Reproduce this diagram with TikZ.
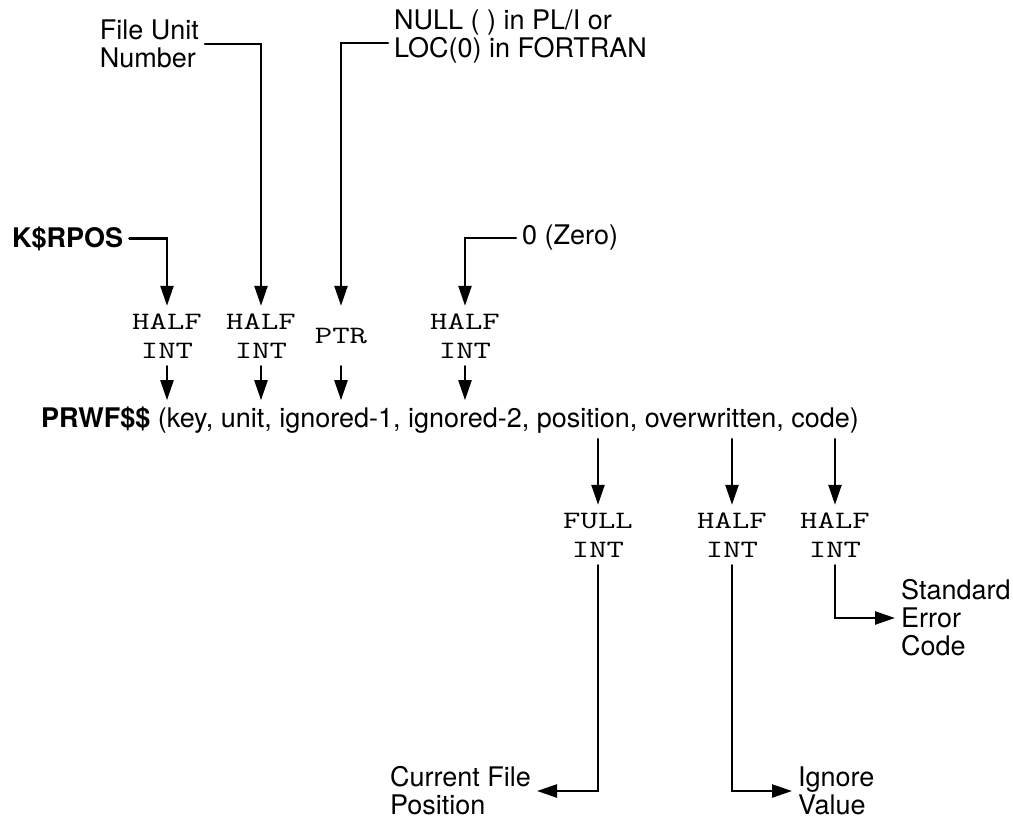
\documentclass[tikz,border=0pt]{standalone}
\usepackage{fontspec}
\setmainfont{TeX Gyre Heros}
\usetikzlibrary{arrows.meta}
\newcommand\wtt[1]{\scalebox{1.35}[1]{#1}}

\begin{document}
\begin{tikzpicture}[x=.5pt, y=-.5pt, line cap=round, line width=1.2pt,
  >={Triangle[length=10pt,width=6.5pt]},
  txt/.style={font=\fontsize{13.5}{14}\selectfont, inner sep=2.5pt, align=left},
  ttl/.style={font=\ttfamily\fontsize{12.5}{14.5}\selectfont, inner sep=2.5pt,
    align=center, minimum height=29pt}]

\useasboundingbox (0,0) rectangle (1013,819);

% what is passed in
\node[txt, anchor=base west] (kr) at (6,247) {\bfseries K\$RPOS};
\node[txt, anchor=east] (fu) at (205,44) {File Unit\\Number};
\node[txt, anchor=west] (nl) at (388,37) {NULL ( ) in PL/I or\\LOC(0) in FORTRAN};
\node[txt, anchor=west] (zr) at (516,238) {0 (Zero)};

\node[ttl] (h1) at (167,336) {\wtt{HALF}\\\wtt{INT}};
\node[ttl] (h2) at (261,336) {\wtt{HALF}\\\wtt{INT}};
\node[ttl] (ptr) at (341,336) {\wtt{PTR}};
\node[ttl] (h4) at (465,336) {\wtt{HALF}\\\wtt{INT}};

\node[txt, anchor=base west] (call) at (35,427)
  {\textbf{PRWF\$\$} (key, unit, ignored-1, ignored-2, position, overwritten, code)};

% what comes back
\node[ttl] (f1) at (598,535) {\wtt{FULL}\\\wtt{INT}};
\node[ttl] (h6) at (732,535) {\wtt{HALF}\\\wtt{INT}};
\node[ttl] (h7) at (835,535) {\wtt{HALF}\\\wtt{INT}};

\node[txt, anchor=east] (cfp) at (537,791) {Current File\\Position};
\node[txt, anchor=west] (iv) at (792,791) {Ignore\\Value};
\node[txt, anchor=west] (sec) at (895,618) {Standard\\Error\\Code};

\draw[->] (kr.east) -| (h1.north);
\draw[->] (fu.east) -| (h2.north);
\draw[->] ([yshift=-3pt]nl.west) -| (ptr.north);
\draw[->] (zr.west) -| (h4.north);

\foreach \n in {h1,h2,ptr,h4}
  \draw[->] (\n.south) -- (\n.south |- call.north);
\foreach \n in {f1,h6,h7}
  \draw[->] (\n.north |- call.south) -- (\n.north);

\draw[->] (f1.south) |- (cfp.east);
\draw[->] (h6.south) |- (iv.west);
\draw[->] (h7.south) |- (sec.west);

\end{tikzpicture}
\end{document}
